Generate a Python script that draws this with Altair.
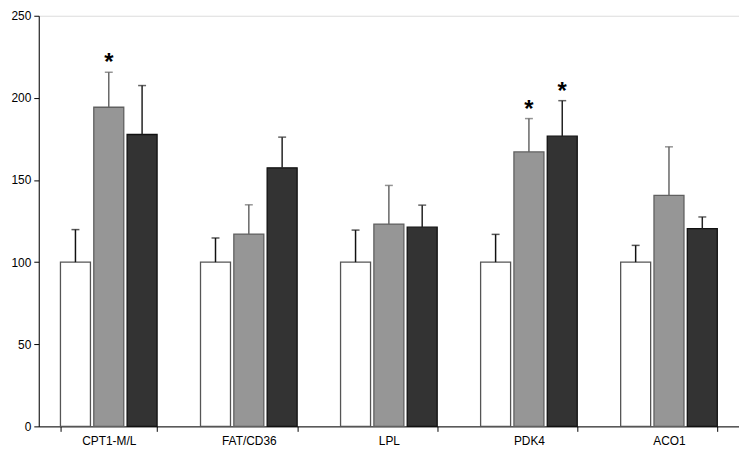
import altair as alt
import pandas as pd

categories = ["CPT1-M/L", "FAT/CD36", "LPL", "PDK4", "ACO1"]
groups = ["g1", "g2", "g3"]
values_g1 = [100, 100, 100, 100, 100]
values_g2 = [194.3, 117.1, 123.2, 167.1, 140.6]
values_g3 = [177.7, 157.4, 121.3, 176.7, 120.4]
err_g1 = [119.8, 114.7, 119.5, 116.9, 110.2]
err_g2 = [215.6, 134.9, 146.7, 187.4, 170.2]
err_g3 = [207.5, 176.1, 134.7, 198.3, 127.5]
star_g1 = [False, False, False, False, False]
star_g2 = [True, False, False, True, False]
star_g3 = [False, False, False, True, False]

rows = []
for vals, errs, stars, g in [(values_g1, err_g1, star_g1, "g1"),
                             (values_g2, err_g2, star_g2, "g2"),
                             (values_g3, err_g3, star_g3, "g3")]:
    for c, v, e, s in zip(categories, vals, errs, stars):
        rows.append({"cat": c, "grp": g, "val": v, "err": e, "star": "*" if s else ""})
df = pd.DataFrame(rows)

x = alt.X("cat:N", sort=categories, title=None,
          scale=alt.Scale(paddingInner=0.31, paddingOuter=0.155),
          axis=alt.Axis(labelAngle=0, tickBand="extent", labelFont="Liberation Sans",
                        labelFontSize=12, labelColor="black", domainColor="black",
                        tickColor="black", tickSize=5, labelPadding=4, domainWidth=1))
xo = alt.XOffset("grp:N", sort=groups, scale=alt.Scale(paddingInner=0.1, paddingOuter=0))

fill_scale = alt.Scale(domain=groups, range=["#ffffff", "#969696", "#333333"])
stroke_scale = alt.Scale(domain=groups, range=["#555555", "#606060", "#111111"])
err_scale = alt.Scale(domain=groups, range=["#111111", "#666666", "#222222"])

yscale = alt.Scale(domain=[0, 250], nice=False)
yaxis = alt.Axis(values=[0, 50, 100, 150, 200, 250], grid=False, labelFont="Liberation Sans",
                 labelFontSize=12, labelColor="black", domainColor="black",
                 tickColor="black", tickSize=5, labelPadding=3, title=None)

base = alt.Chart(df)

bars = base.mark_bar(strokeWidth=1.3).encode(
    x=x, xOffset=xo,
    y=alt.Y("val:Q", scale=yscale, axis=yaxis),
    fill=alt.Fill("grp:N", scale=fill_scale, legend=None),
    stroke=alt.Stroke("grp:N", scale=stroke_scale, legend=None),
)

rules = base.mark_rule(strokeWidth=1.5).encode(
    x=x, xOffset=xo,
    y=alt.Y("val:Q", scale=yscale),
    y2="err:Q",
    color=alt.Color("grp:N", scale=err_scale, legend=None),
)

caps = base.mark_tick(orient="horizontal", size=8, thickness=1.5).encode(
    x=x, xOffset=xo,
    y=alt.Y("err:Q", scale=yscale),
    color=alt.Color("grp:N", scale=err_scale, legend=None),
)

stars = base.mark_text(fontSize=24, font="Liberation Sans", fontWeight="bold",
                       baseline="alphabetic", dy=-2, color="black").encode(
    x=x, xOffset=xo,
    y=alt.Y("err:Q", scale=yscale),
    text="star:N",
)

chart = alt.layer(bars, rules, caps, stars).properties(
    width=706, height=414,
    autosize=alt.AutoSizeParams(type="none"),
    padding={"left": 31, "top": 6, "right": 0, "bottom": 22},
).configure_view(stroke=None).configure(background="white")

chart.save("out.html", embed_options={"renderer": "svg", "actions": False})
